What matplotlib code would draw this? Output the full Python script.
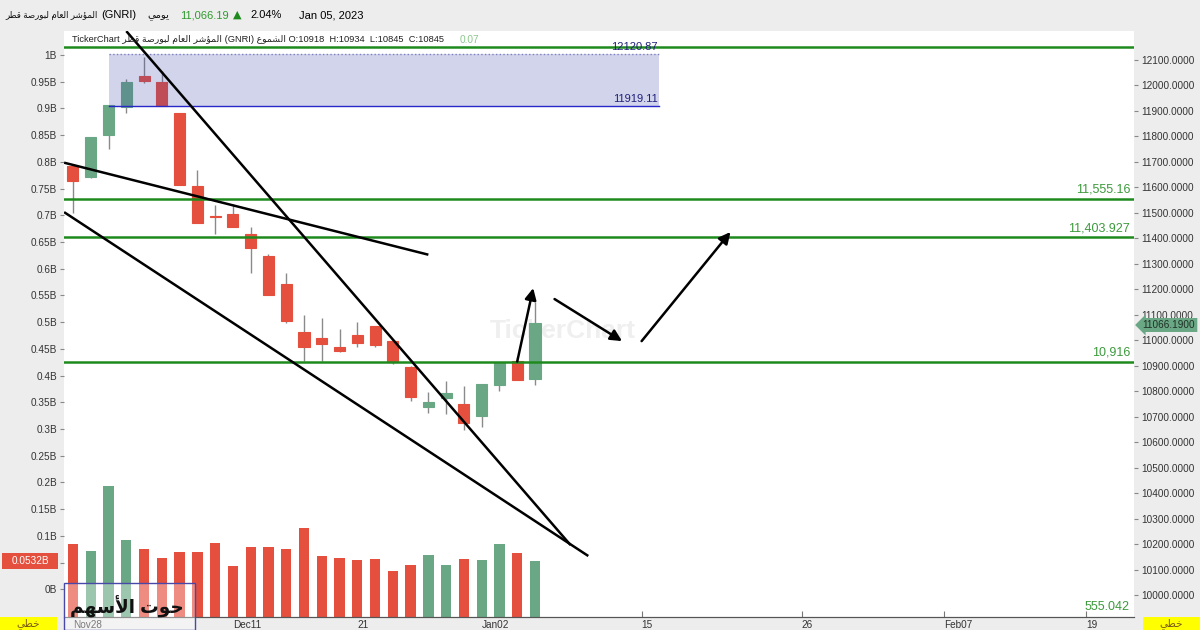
import numpy as np
import pandas as pd
import matplotlib
matplotlib.use('Agg')
import matplotlib.pyplot as plt
from matplotlib.patches import Rectangle

plt.rcParams['font.family'] = ['Liberation Sans', 'DejaVu Sans']

# Qatar exchange trading days (Sun-Thu), 18 Dec and 1 Jan closed
days = pd.bdate_range('2022-11-28', '2023-02-28', freq='C',
                      weekmask='Sun Mon Tue Wed Thu',
                      holidays=['2022-12-18', '2023-01-01'])

opens  = [11683, 11641, 11805, 11916, 12036, 12014, 11892, 11604, 11486, 11493,
          11416, 11330, 11219, 11032, 11009, 10973, 11021, 11054, 10998, 10896,
          10739, 10772, 10748, 10702, 10824, 10918, 10846]
highs  = [11687, 11797, 11922, 12024, 12112, 12056, 11892, 11667, 11530, 11534,
          11442, 11338, 11262, 11098, 11085, 11042, 11070, 11056, 10999, 10900,
          10795, 10841, 10821, 10829, 10909, 10934, 11150]
lows   = [11499, 11637, 11748, 11890, 12007, 11918, 11608, 11458, 11415, 11442,
          11262, 11177, 11066, 10919, 10919, 10953, 10974, 10972, 10905, 10761,
          10713, 10709, 10647, 10660, 10801, 10845, 10824]
closes = [11624, 11796, 11921, 12014, 12018, 11918, 11608, 11458, 11482, 11442,
          11362, 11177, 11075, 10972, 10983, 10956, 10990, 10981, 10914, 10778,
          10758, 10792, 10676, 10829, 10909, 10845, 11066.19]
# volume in billions
volume = [0.0839, 0.0713, 0.1937, 0.0921, 0.0763, 0.0587, 0.0694, 0.0694, 0.0871, 0.0429,
          0.0801, 0.0801, 0.0763, 0.1155, 0.0618, 0.0587, 0.0549, 0.0568, 0.0341, 0.0461,
          0.0637, 0.0461, 0.0568, 0.0549, 0.0839, 0.0675, 0.0532]

tick_dates = ['2022-11-28', '2022-12-11', '2022-12-21', '2023-01-02',
              '2023-01-15', '2023-01-26', '2023-02-07', '2023-02-19']
tick_labels = ['Nov28', 'Dec11', '21', 'Jan02', '15', '26', 'Feb07', '19']

levels = [12150, 11555.16, 11403.927, 10916]
level_labels = ['', '11,555.16', '11,403.927', '10,916']

box_dates = ['2022-11-30', '2023-01-16']
box_prices = [11919.11, 12120.87]

# drawn trend lines: (index, price) pairs
trend_lines = [[(3.0, 12212), (28.0, 10196)],
               [(-0.5, 11502), (29.0, 10153)],
               [(-0.5, 11696), (20.0, 11335)]]
arrows = [[(25.0, 10916), (25.9, 11204)],
          [(27.1, 11161), (30.9, 10996)],
          [(32.0, 10996), (37.0, 11424)]]

# ---- arabic shaping (matplotlib has no bidi / joining) ----
AR = {
    'ا': ('\uFE8D', '\uFE8E', None, None), 'أ': ('\uFE83', '\uFE84', None, None),
    'ؤ': ('\uFE85', '\uFE86', None, None), 'ب': ('\uFE8F', '\uFE90', '\uFE91', '\uFE92'),
    'ة': ('\uFE93', '\uFE94', None, None), 'ت': ('\uFE95', '\uFE96', '\uFE97', '\uFE98'),
    'ح': ('\uFEA1', '\uFEA2', '\uFEA3', '\uFEA4'), 'خ': ('\uFEA5', '\uFEA6', '\uFEA7', '\uFEA8'),
    'ر': ('\uFEAD', '\uFEAE', None, None), 'س': ('\uFEB1', '\uFEB2', '\uFEB3', '\uFEB4'),
    'ش': ('\uFEB5', '\uFEB6', '\uFEB7', '\uFEB8'), 'ص': ('\uFEB9', '\uFEBA', '\uFEBB', '\uFEBC'),
    'ط': ('\uFEC1', '\uFEC2', '\uFEC3', '\uFEC4'), 'ع': ('\uFEC9', '\uFECA', '\uFECB', '\uFECC'),
    'ق': ('\uFED5', '\uFED6', '\uFED7', '\uFED8'), 'ل': ('\uFEDD', '\uFEDE', '\uFEDF', '\uFEE0'),
    'م': ('\uFEE1', '\uFEE2', '\uFEE3', '\uFEE4'), 'ه': ('\uFEE9', '\uFEEA', '\uFEEB', '\uFEEC'),
    'و': ('\uFEED', '\uFEEE', None, None), 'ي': ('\uFEF1', '\uFEF2', '\uFEF3', '\uFEF4'),
    'لا': ('\uFEFB', '\uFEFC', None, None), 'لأ': ('\uFEF7', '\uFEF8', None, None),
}


def ar(s):
    m = []
    i = 0
    while i < len(s):
        if s[i] == 'ل' and i + 1 < len(s) and s[i + 1] in 'اأ':
            m.append(s[i:i + 2]); i += 2
        else:
            m.append(s[i]); i += 1
    out = []
    for i, c in enumerate(m):
        if c not in AR:
            out.append(c); continue
        iso, fin, ini, med = AR[c]
        prev = m[i - 1] if i > 0 else None
        nxt = m[i + 1] if i + 1 < len(m) else None
        jp = prev in AR and AR[prev][2] is not None
        jn = ini is not None and nxt in AR
        out.append(med if jp and jn else fin if jp else ini if jn else iso)
    return ''.join(reversed(out))


def fx(px):
    return px / 1200.0


def fy(py):
    return 1 - py / 630.0


RED = '#E5503E'
GREEN = '#6AA885'
LVL = '#1E8A1E'
GRAY_BG = '#EDEDED'

fig = plt.figure(figsize=(12, 6.3), dpi=100, facecolor=GRAY_BG)
renderer = fig.canvas.get_renderer()


def fit_text(t, width_px):
    # shrink / grow a text so it spans width_px like in the reference
    w = t.get_window_extent(renderer).width
    t.set_fontsize(t.get_fontsize() * width_px / w)


ax = fig.add_axes([fx(64), fy(617), fx(1134 - 64), (617 - 31) / 630.0])
ax.set_facecolor('white')
axp = ax.twinx()

x = np.arange(len(closes))
o = np.array(opens); c = np.array(closes)
h = np.array(highs); l = np.array(lows)
up = c >= o
cols = [GREEN if u else RED for u in up]

# watermark, behind everything in the plot
ax.text(fx(563), fy(331), 'TickerChart', fontsize=19, fontweight='bold',
        color='#EFEFEF', ha='center', va='center', zorder=0.5,
        transform=fig.transFigure)

# volume pane, bars rise from the bottom of the chart
vmin, vmax = -0.0518, 1.0449
ax.bar(x, np.array(volume) - vmin, bottom=vmin, width=0.58, color=cols, zorder=2)
ax.set_ylim(vmin, vmax)
ax.set_xlim(-0.506, 59.71)
yt = np.arange(0, 1.0001, 0.05)
ax.set_yticks(yt)
# 0.05B is covered by the last-volume tag
ax.set_yticklabels(['' if abs(v - 0.05) < 1e-6 else '%gB' % round(v, 2) for v in yt])

# candles
axp.vlines(x, l, h, color='#8a8a8a', lw=1, zorder=2)
axp.bar(x, np.abs(c - o), bottom=np.minimum(o, c), width=0.62, color=cols,
        edgecolor=cols, lw=0.8, zorder=3)
axp.set_ylim(9913.7, 12212.6)
pt = np.arange(10000, 12101, 100)
axp.set_yticks(pt)
axp.set_yticklabels(['%.4f' % v for v in pt])

# shaded zone
i0 = days.get_loc(pd.Timestamp(box_dates[0]))
i1 = days.get_loc(pd.Timestamp(box_dates[1]))
axp.add_patch(Rectangle((i0, box_prices[0]), i1 - i0, box_prices[1] - box_prices[0],
                        facecolor=(0.24, 0.27, 0.67, 0.23), edgecolor='none', zorder=5))
axp.plot([i0, i1], [box_prices[0]] * 2, color='#2828C8', lw=1, zorder=5)
axp.plot([i0, i1], [box_prices[1]] * 2, color='#8080C0', lw=1, ls=':', zorder=5)
axp.text(i1 - 0.1, box_prices[0] + 8, '11919.11', color='#20207A', fontsize=8,
         ha='right', va='bottom', zorder=6)
axp.text(i1 - 0.1, box_prices[1] + 10, '12120.87', color='#20207A', fontsize=8,
         ha='right', va='bottom', zorder=6)

# horizontal levels
for lv, lb in zip(levels, level_labels):
    axp.axhline(lv, color=LVL, lw=1.8, zorder=4)
    if lb:
        axp.text(59.5, lv + 12, lb, color='#3C9A3C', fontsize=9, ha='right',
                 va='bottom', zorder=6)

for (a, b) in trend_lines:
    axp.plot([a[0], b[0]], [a[1], b[1]], color='black', lw=1.8, zorder=6,
             solid_capstyle='butt')
for (a, b) in arrows:
    axp.annotate('', xy=b, xytext=a,
                 arrowprops=dict(arrowstyle='-|>', color='black', lw=1.8,
                                 mutation_scale=17, shrinkA=0, shrinkB=0),
                 zorder=6)

# x ticks at dates
ti = [days.get_loc(pd.Timestamp(d)) for d in tick_dates]
ax.set_xticks(ti)
ax.set_xticklabels(tick_labels)
for t in ax.get_xticklabels():
    t.set_ha('left')
ax.tick_params(axis='x', direction='in', length=4, pad=2, labelsize=7.2,
               colors='#333333', color='#777777')
ax.tick_params(axis='y', direction='out', length=3, pad=2, labelsize=7.2,
               colors='#333333', color='#888888')
axp.tick_params(axis='y', direction='out', length=3, pad=2, labelsize=7.2,
                colors='#333333', color='#888888')
for a in (ax, axp):
    for s in ('left', 'right', 'top'):
        a.spines[s].set_visible(False)
    a.spines['bottom'].set_color('#555555')

# header
t = fig.text(fx(5), fy(15), ar('المؤشر العام لبورصة قطر'), fontsize=8,
             ha='left', va='center', color='#111111')
fit_text(t, 92)
fig.text(fx(101), fy(15), '(GNRI)', fontsize=8, ha='left', va='center')
t = fig.text(fx(147), fy(15), ar('يومي'), fontsize=8, ha='left',
             va='center', color='#111111')
fit_text(t, 22)
fig.text(fx(180), fy(15), '11,066.19', fontsize=8, color='#2E9A2E',
         ha='left', va='center')
fig.text(fx(233), fy(15), '▲', fontsize=8, color='#1E8A1E', ha='left',
         va='center', family='DejaVu Sans')
fig.text(fx(250), fy(15), '2.04%', fontsize=8, ha='left', va='center')
fig.text(fx(299), fy(15), 'Jan 05, 2023', fontsize=8, ha='left', va='center')

line2 = ('TickerChart ' + ar('المؤشر العام لبورصة قطر') + ' (GNRI) ' + ar('الشموع')
         + ' O:10918  H:10934  L:10845  C:10845')
t = fig.text(fx(72), fy(40), line2, fontsize=7.3, ha='left', va='center',
             color='#222222')
fit_text(t, 372)
fig.text(fx(460), fy(40), '0.07', fontsize=7.3, ha='left', va='center',
         color='#8CC88C')

# axis tags
fig.patches.append(Rectangle((fx(2), fy(569)), fx(56), 16 / 630.0,
                             transform=fig.transFigure, fc=RED, ec='none',
                             zorder=5))
fig.text(fx(30), fy(561), '0.0532B', fontsize=7.2, color='white', ha='center',
         va='center', zorder=6)
fig.text(fx(1169), fy(325), '11066.1900', fontsize=7.2, color='#1f2f25',
         ha='center', va='center', zorder=6,
         bbox=dict(boxstyle='larrow,pad=0.2', fc='#6AA885', ec='none'))
fig.text(fx(1130), fy(607), '555.042', fontsize=9, color='#3C9A3C', ha='right',
         va='center')

for x0 in (0, 1143):
    fig.patches.append(Rectangle((fx(x0), 0), fx(57), 13 / 630.0,
                                 transform=fig.transFigure, fc='#FFFF00',
                                 ec='none', zorder=5))
    fig.text(fx(x0 + 28.5), fy(623.5), ar('خطي'), fontsize=7.5,
             color='#7A5A10', ha='center', va='center', zorder=6)

# logo box bottom-left
fig.patches.append(Rectangle((fx(64), 0), fx(131), 47 / 630.0,
                             transform=fig.transFigure,
                             fc=(1, 1, 1, 0.35), ec='#4848A8', lw=1, zorder=5))
t = fig.text(fx(127), fy(607), ar('حوت الأسهم'), fontsize=15, fontweight='bold',
             color='#111111', ha='center', va='center', zorder=6)
fit_text(t, 114)

fig.savefig('out.png', dpi=100, facecolor=fig.get_facecolor())
